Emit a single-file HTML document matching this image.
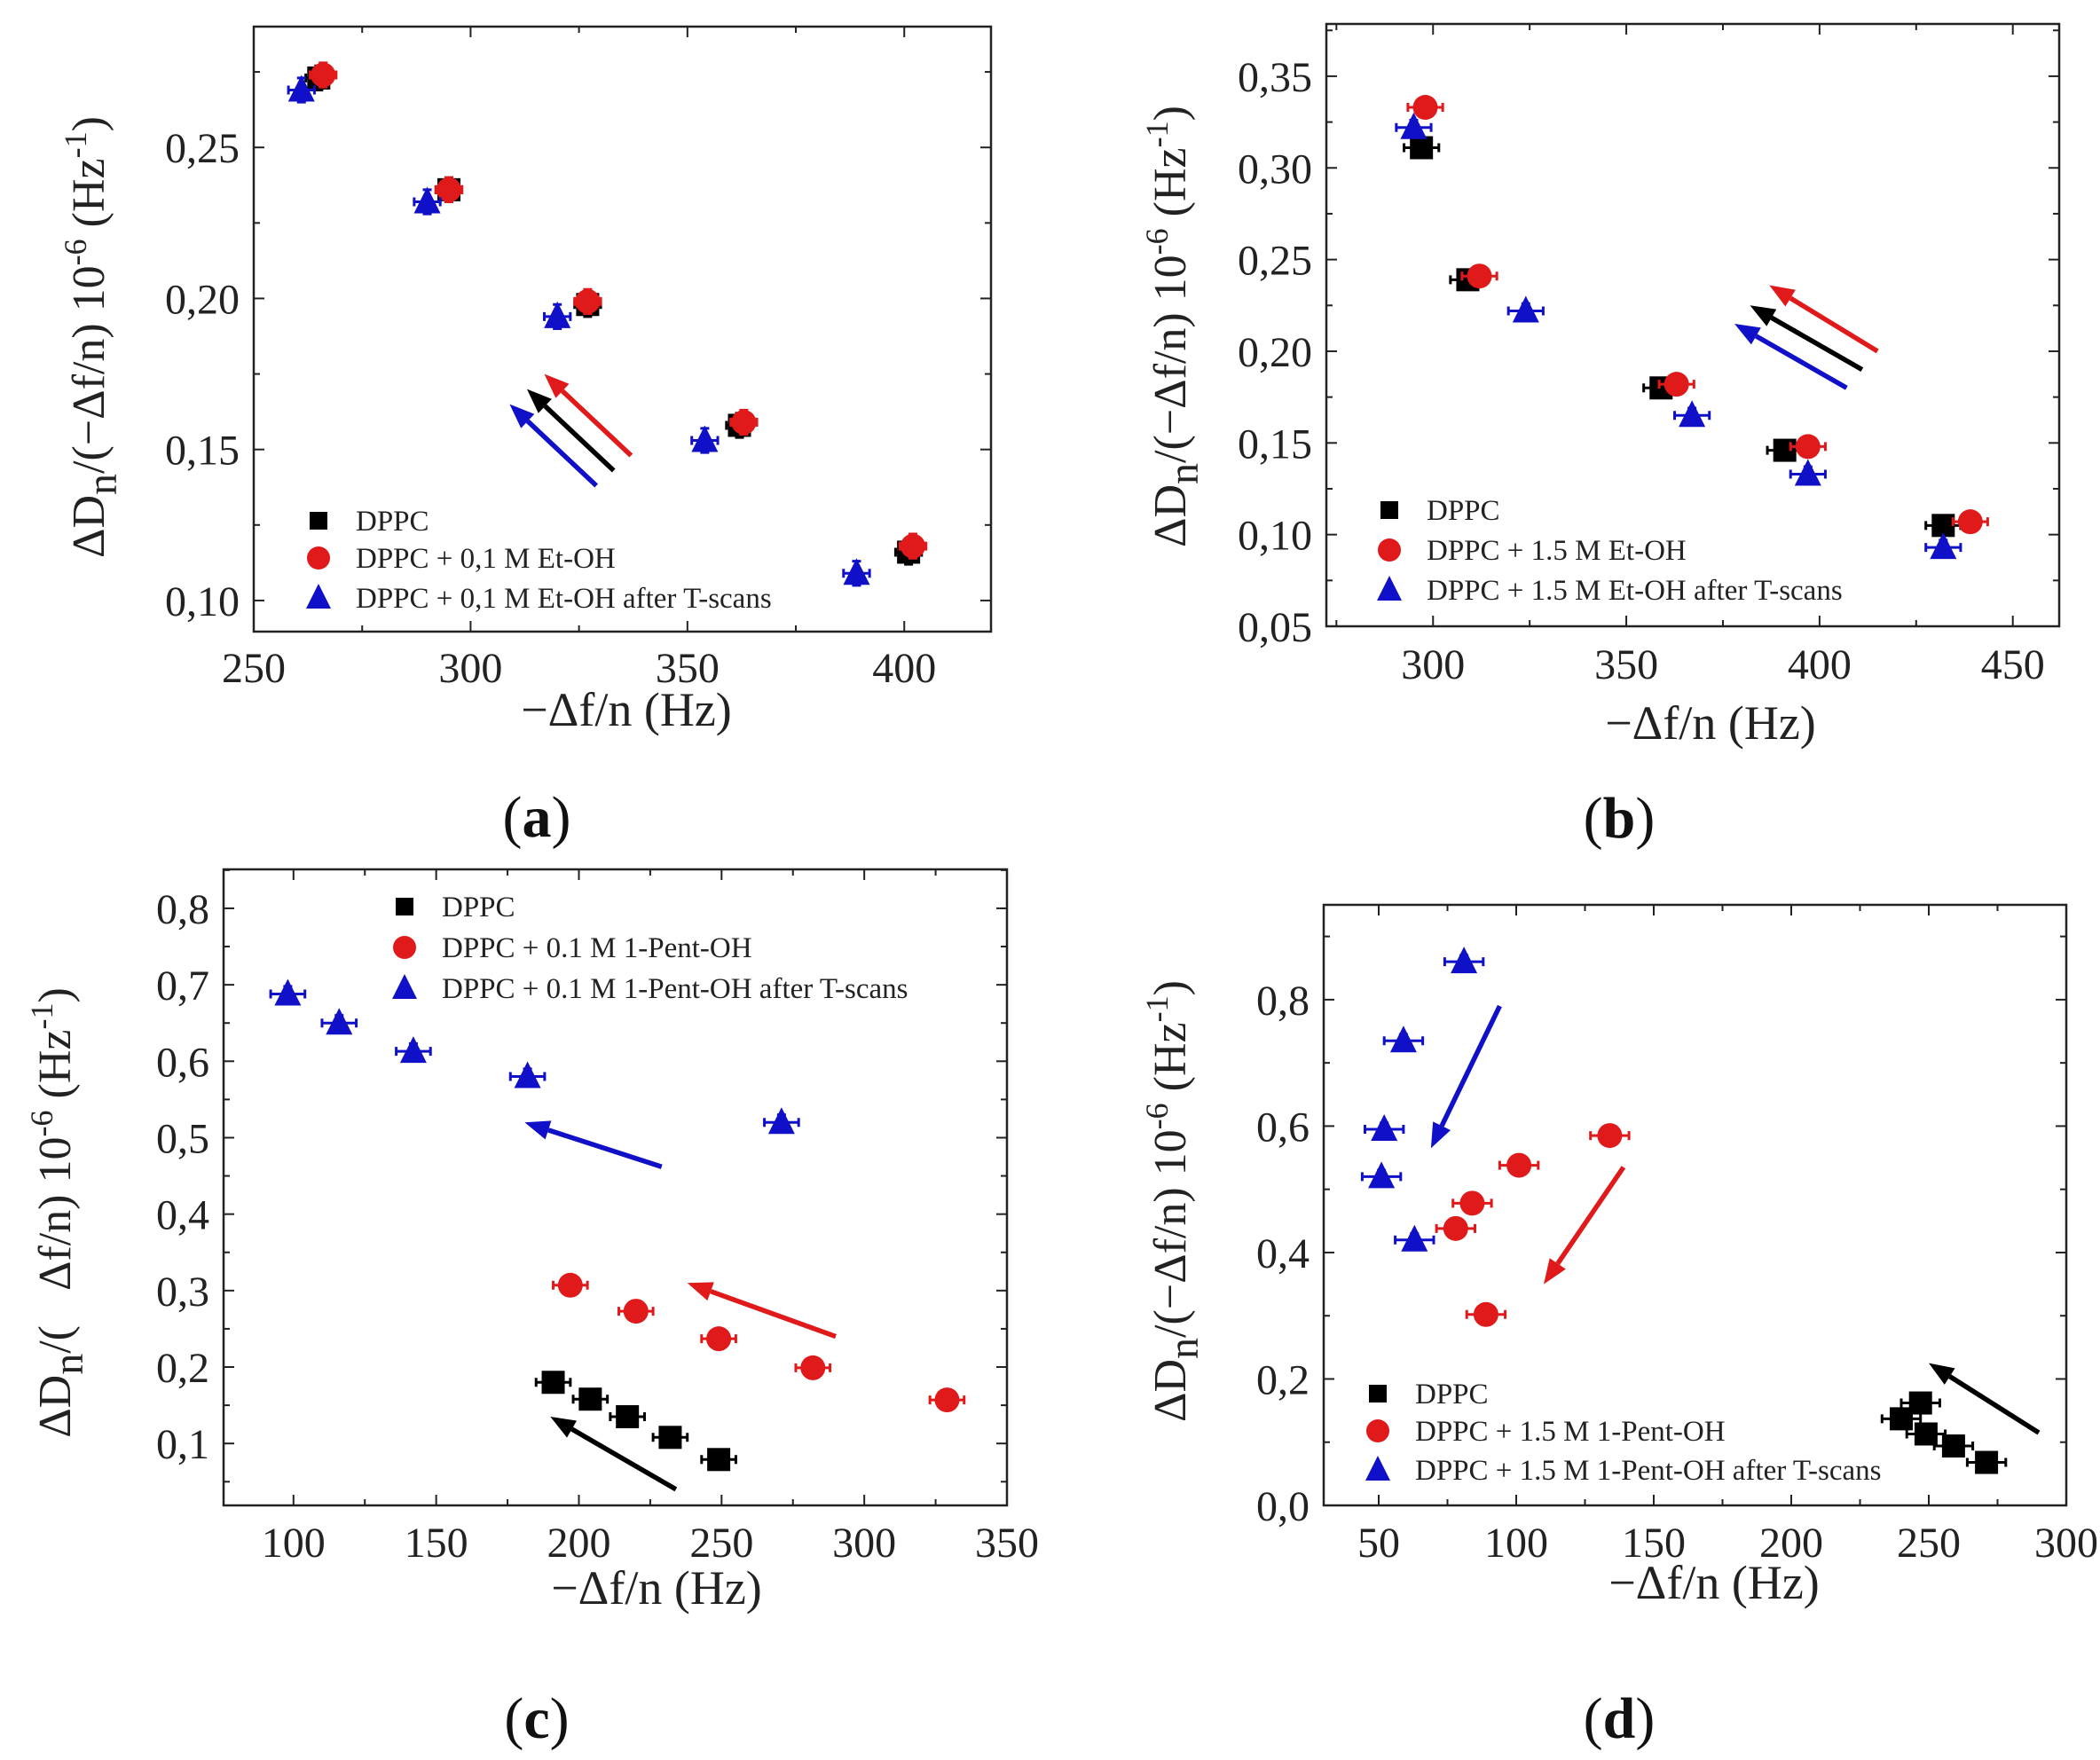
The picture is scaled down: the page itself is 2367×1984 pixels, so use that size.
<!DOCTYPE html>
<html><head><meta charset="utf-8"><style>
html,body{margin:0;padding:0;background:#fff;}
svg{display:block;font-family:"Liberation Serif",serif;}
</style></head><body>
<svg id="fig" width="2367" height="1984" viewBox="0 0 2367 1984" xmlns="http://www.w3.org/2000/svg"></svg>
<script>
// Panel (a)
const aBlackX=[265,295,327,362,401]; const aBlackY=[0.273,0.236,0.198,0.158,0.116];
const aRedX=[266,295,327,363,402]; const aRedY=[0.274,0.236,0.199,0.159,0.118];
const aBlueX=[261,290,320,354,389]; const aBlueY=[0.269,0.232,0.194,0.153,0.109];
const aXTicks=[250,300,350,400]; const aYTicks=[0.10,0.15,0.20,0.25];
const aLegend=["DPPC","DPPC + 0,1 M Et-OH","DPPC + 0,1 M Et-OH after T-scans"];
// Panel (b)
const bBlackX=[297,309,359,391,432]; const bBlackY=[0.311,0.239,0.180,0.146,0.105];
const bRedX=[298,312,363,397,439]; const bRedY=[0.333,0.241,0.182,0.148,0.107];
const bBlueX=[295,324,367,397,432]; const bBlueY=[0.322,0.222,0.165,0.133,0.093];
const bXTicks=[300,350,400,450]; const bYTicks=[0.05,0.10,0.15,0.20,0.25,0.30,0.35];
const bLegend=["DPPC","DPPC + 1.5 M Et-OH","DPPC + 1.5 M Et-OH after T-scans"];
// Panel (c)
const cBlackX=[191,204,217,232,249]; const cBlackY=[0.180,0.158,0.135,0.108,0.079];
const cRedX=[197,220,249,282,329]; const cRedY=[0.307,0.273,0.237,0.199,0.157];
const cBlueX=[98,116,142,182,271]; const cBlueY=[0.688,0.650,0.613,0.580,0.520];
const cXTicks=[100,150,200,250,300,350]; const cYTicks=[0.1,0.2,0.3,0.4,0.5,0.6,0.7,0.8];
const cLegend=["DPPC","DPPC + 0.1 M 1-Pent-OH","DPPC + 0.1 M 1-Pent-OH after T-scans"];
// Panel (d)
const dBlackX=[240,247,249,259,271]; const dBlackY=[0.137,0.162,0.113,0.094,0.068];
const dRedX=[134,101,84,78,89]; const dRedY=[0.585,0.538,0.478,0.438,0.302];
const dBlueX=[81,59,52,51,63]; const dBlueY=[0.860,0.735,0.595,0.520,0.420];
const dXTicks=[50,100,150,200,250,300]; const dYTicks=[0.0,0.2,0.4,0.6,0.8];
const dLegend=["DPPC","DPPC + 1.5 M 1-Pent-OH","DPPC + 1.5 M 1-Pent-OH after T-scans"];

const NS="http://www.w3.org/2000/svg";
const svg=document.getElementById('fig');
const RED="#e01a1a", BLUE="#1010c8", BLK="#000";
function mk(tag,attrs,parent){const e=document.createElementNS(NS,tag);for(const k in attrs)e.setAttribute(k,attrs[k]);(parent||svg).appendChild(e);return e;}

const panels=[
 {id:'a',box:[286,30,1117,712],x:[250,420],y:[0.0897,0.290],xt:aXTicks,yt:aYTicks,dec:2,
  s:[[aBlackX,aBlackY,BLK,'sq'],[aRedX,aRedY,RED,'ci'],[aBlueX,aBlueY,BLUE,'tr']],
  arrows:[[337,0.148,317,0.175,RED],[333,0.143,313,0.170,BLK],[329,0.138,309,0.165,BLUE]],
  leg:aLegend,legX:359,legY:[587,629,674],ytitle:[99,380],xtitle:[706,800],xlY:752,label:[605,921],minus:true,ex:3,ey:0.004},
 {id:'b',box:[1495,27,2321,706],x:[272.4,462],y:[0.05,0.3785],xt:bXTicks,yt:bYTicks,dec:2,
  s:[[bBlackX,bBlackY,BLK,'sq'],[bRedX,bRedY,RED,'ci'],[bBlueX,bBlueY,BLUE,'tr']],
  arrows:[[415,0.200,387,0.236,RED],[411,0.190,382,0.225,BLK],[407,0.180,378,0.215,BLUE]],
  leg:bLegend,legX:1566,legY:[575,620,665],ytitle:[1318,368],xtitle:[1928,815],xlY:748,label:[1825,922],minus:true,ex:4.5,ey:0.004},
 {id:'c',box:[252,980,1135,1697],x:[75.5,350],y:[0.019,0.851],xt:cXTicks,yt:cYTicks,dec:1,
  s:[[cBlackX,cBlackY,BLK,'sq'],[cRedX,cRedY,RED,'ci'],[cBlueX,cBlueY,BLUE,'tr']],
  arrows:[[229,0.462,181,0.520,BLUE],[290,0.240,238,0.310,RED],[234,0.040,190,0.135,BLK]],
  leg:cLegend,legX:456,legY:[1022,1068,1114],ytitle:[61,1367],xtitle:[740,1790],xlY:1738,label:[605,1937],minus:false,ex:6,ey:0.01},
 {id:'d',box:[1492,1020,2329,1697],x:[30,300],y:[0,0.95],xt:dXTicks,yt:dYTicks,dec:1,
  s:[[dBlackX,dBlackY,BLK,'sq'],[dRedX,dRedY,RED,'ci'],[dBlueX,dBlueY,BLUE,'tr']],
  arrows:[[94,0.79,69,0.565,BLUE],[139,0.535,110,0.350,RED],[290,0.115,250,0.225,BLK]],
  leg:dLegend,legX:1553,legY:[1571,1613,1657],ytitle:[1318,1354],xtitle:[1932,1784],xlY:1738,label:[1825,1937],minus:true,ex:7,ey:0.01}
];

function marker(g,type,cx,cy,col,sz){
  let e;
  if(type==='sq') e=mk('rect',{x:cx-sz,y:cy-sz,width:2*sz,height:2*sz,fill:col},g);
  else if(type==='ci') e=mk('circle',{cx:cx,cy:cy,r:sz+1,fill:col},g);
  else e=mk('polygon',{points:`${cx},${cy-sz-4} ${cx-sz-2},${cy+sz} ${cx+sz+2},${cy+sz}`,fill:col},g);
  return e;
}

panels.forEach(p=>{
  const [L,T,R,B]=p.box;
  const sx=v=>L+(v-p.x[0])/(p.x[1]-p.x[0])*(R-L);
  const sy=v=>B-(v-p.y[0])/(p.y[1]-p.y[0])*(B-T);
  const g=mk('g',{});
  
  
  const frame=mk('rect',{x:L,y:T,width:R-L,height:B-T,fill:'none',stroke:'#222','stroke-width':2.5},g);
  
  
  const xstep=p.xt[1]-p.xt[0];
  for(let v=p.xt[0]-xstep;v<=p.x[1]+1e-9;v+=xstep/2){
    if(v<p.x[0]-1e-9) continue;
    const X=sx(v); const major=Math.abs(((v-p.xt[0])/xstep)-Math.round((v-p.xt[0])/xstep))<1e-6;
    const len=major?12:7;
    mk('line',{x1:X,y1:B,x2:X,y2:B-len,stroke:'#222','stroke-width':2},g);
    mk('line',{x1:X,y1:T,x2:X,y2:T+len,stroke:'#222','stroke-width':2},g);
  }
  p.xt.forEach(v=>{
    const t=mk('text',{x:sx(v),y:p.xlY+17,'text-anchor':'middle','font-size':48,fill:'#222'},g);
    t.textContent=v;
    
    
  });
  const ystep=p.yt[1]-p.yt[0];
  for(let v=p.yt[0]-ystep;v<=p.y[1]+1e-9;v+=ystep/2){
    if(v<p.y[0]-1e-9) continue;
    const Y=sy(v); const major=Math.abs(((v-p.yt[0])/ystep)-Math.round((v-p.yt[0])/ystep))<1e-6;
    const len=major?12:7;
    mk('line',{x1:L,y1:Y,x2:L+len,y2:Y,stroke:'#222','stroke-width':2},g);
    mk('line',{x1:R,y1:Y,x2:R-len,y2:Y,stroke:'#222','stroke-width':2},g);
  }
  p.yt.forEach(v=>{
    const t=mk('text',{x:L-16,y:sy(v)+17,'text-anchor':'end','font-size':48,fill:'#222'},g);
    t.textContent=v.toFixed(p.dec).replace('.',',');
    
    
  });
  p.arrows.forEach(a=>{
    const x1=sx(a[0]),y1=sy(a[1]),x2=sx(a[2]),y2=sy(a[3]);
    const ang=Math.atan2(y2-y1,x2-x1), hl=28, hw=11;
    const bx=x2-hl*Math.cos(ang), by=y2-hl*Math.sin(ang);
    const ln=mk('line',{x1:x1,y1:y1,x2:bx,y2:by,stroke:a[4],'stroke-width':5.5},g);
    
    
    const px=-Math.sin(ang)*hw, py=Math.cos(ang)*hw;
    mk('polygon',{points:`${x2},${y2} ${bx+px},${by+py} ${bx-px},${by-py}`,fill:a[4]},g);
  });
  const names=['series-dppc','series-alcohol','series-after-t-scans'];
  p.s.forEach((s,si)=>{
    const sg=mk('g',{},g);
    
    
    s[0].forEach((xv,i)=>{
      const X=sx(xv),Y=sy(s[1][i]);
      const ex=sx(xv+p.ex)-X, ey=Y-sy(s[1][i]+p.ey);
      mk('path',{d:`M${X-ex},${Y}H${X+ex}M${X-ex},${Y-5}V${Y+5}M${X+ex},${Y-5}V${Y+5}M${X},${Y-ey}V${Y+ey}M${X-5},${Y-ey}H${X+5}M${X-5},${Y+ey}H${X+5}`,stroke:s[2],'stroke-width':3,fill:'none'},sg);
      const m=marker(sg,s[3],X,Y,s[2],13);
      
      
    });
  });
  const types=['sq','ci','tr'], cols=[BLK,RED,BLUE];
  p.leg.forEach((txt,i)=>{
    const lg=mk('g',{},g);
    
    
    marker(lg,types[i],p.legX,p.legY[i],cols[i],i===0?10:12);
    const t=mk('text',{x:p.legX+42,y:p.legY[i]+11,'font-size':33,fill:'#222'},lg);
    t.textContent=txt;
  });
  const xt=mk('text',{x:p.xtitle[0],y:p.xtitle[1]+18,'text-anchor':'middle','font-size':54,fill:'#222'},g);
  xt.textContent='\u2212\u0394f/n (Hz)';
  
  
  const yt=mk('text',{x:0,y:0,'text-anchor':'middle','font-size':52,fill:'#222',transform:`translate(${p.ytitle[0]+18},${p.ytitle[1]}) rotate(-90)`},g);
  
  
  yt.innerHTML='\u0394D<tspan dy="14" font-size="48">n</tspan><tspan dy="-14">/(' + (p.minus?'\u2212':'\u2002 ') + '\u0394f/n) 10</tspan><tspan dy="-20" font-size="36">-6</tspan><tspan dy="20"> (Hz</tspan><tspan dy="-20" font-size="36">-1</tspan><tspan dy="20">)</tspan>';
  const lb=mk('text',{x:p.label[0],y:p.label[1]+22,'text-anchor':'middle','font-size':66,fill:'#111'},g);
  lb.innerHTML='(<tspan font-weight="bold">'+p.id+'</tspan>)';
  
  
});
</script>
</body></html>
